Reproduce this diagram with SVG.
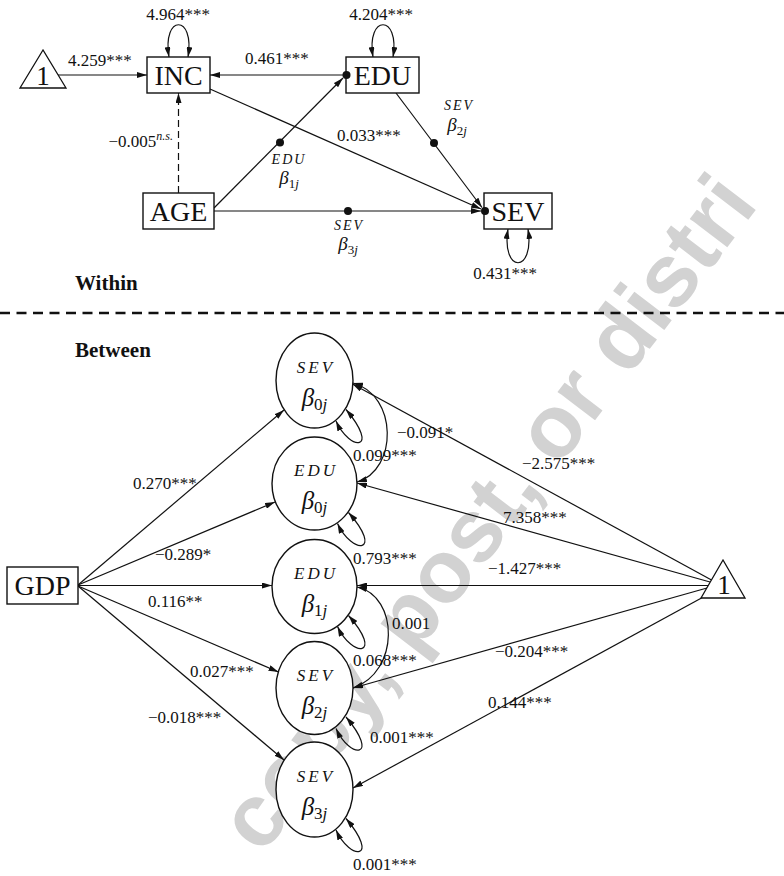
<svg xmlns="http://www.w3.org/2000/svg" width="784" height="876" viewBox="0 0 784 876">
<style>
text{font-family:"Liberation Serif","Times New Roman",serif;fill:#111}
.lbl{font-size:17px}
.big{font-size:28px}
.hd{font-size:21px;font-weight:bold}
.it{font-style:italic}
.sc{font-size:17px;font-style:italic;letter-spacing:3px}
.sct{font-size:14px;font-style:italic;letter-spacing:2px}
.beta{font-size:25px;font-style:italic}
.betat{font-size:19px;font-style:italic}
.ln{stroke:#111;stroke-width:1.2;fill:none}
.arr{marker-end:url(#ah)}
.both{marker-start:url(#ah);marker-end:url(#ah)}
.box{fill:#fff;stroke:#111;stroke-width:1.4}
.ell{fill:#fff;stroke:#111;stroke-width:1.4}
.dot{fill:#111}
.wm{font-family:"Liberation Sans",Arial,sans-serif;font-size:89px;font-weight:bold;fill:#d2d2d2}
</style>
<defs>
<marker id="ah" viewBox="0 0 10 6" refX="10" refY="3" markerWidth="10" markerHeight="6" markerUnits="userSpaceOnUse" orient="auto-start-reverse"><path d="M0,0 L10,3 L0,6 z" fill="#111"/></marker>
<path id="loopS" d="M21.5,40.5 C36,72 66,70 31.5,29"/>
<path id="loopE" d="M23,40 C38,72 70,70 34,29"/>
</defs>

<text class="wm" transform="translate(262,856) rotate(-52.6)">copy, post, or distri</text>

<g id="connectors">
  <line class="ln arr" x1="58" y1="75" x2="147" y2="75"/>
  <path class="ln both" d="M169,57 C162,14 195,14 188,57"/>
  <path class="ln both" d="M373,57 C366,14 400,14 393,57"/>
  <line class="ln arr" x1="346" y1="75" x2="210" y2="75"/>
  <line class="ln arr" x1="214" y1="208" x2="343" y2="78"/>
  <line class="ln arr" x1="178.5" y1="193" x2="178.5" y2="93" stroke-dasharray="7,4"/>
  <line class="ln arr" x1="210" y1="89" x2="481" y2="209"/>
  <line class="ln arr" x1="396" y1="93" x2="482" y2="207.5"/>
  <line class="ln arr" x1="214" y1="211" x2="481" y2="211"/>
  <path class="ln both" d="M508,229 C501,274 535,274 528,229"/>
  <line x1="0" y1="313" x2="784" y2="313" stroke="#111" stroke-width="2.6" stroke-dasharray="10,6.5"/>

  <line class="ln arr" x1="78" y1="585" x2="284" y2="410"/>
  <line class="ln arr" x1="78" y1="585" x2="275" y2="502"/>
  <line class="ln arr" x1="78" y1="585.5" x2="272" y2="585.5"/>
  <line class="ln arr" x1="78" y1="586" x2="278.5" y2="672"/>
  <line class="ln arr" x1="78" y1="586" x2="284" y2="760"/>

  <line class="ln arr" x1="711.5" y1="580" x2="352.5" y2="384"/>
  <line class="ln arr" x1="710" y1="582" x2="357" y2="483"/>
  <line class="ln arr" x1="708" y1="585.5" x2="357" y2="585.5"/>
  <line class="ln arr" x1="707" y1="588" x2="353" y2="688"/>
  <line class="ln arr" x1="701.5" y1="598" x2="353" y2="788"/>

  <path class="ln both" d="M353,383 C398,395 398,470 357,482"/>
  <path class="ln both" d="M357,587 C399,596 400,672 353,688"/>

  <use href="#loopS" class="ln both" transform="translate(314.5,380.5)"/>
  <use href="#loopE" class="ln both" transform="translate(314.5,483.5)"/>
  <use href="#loopE" class="ln both" transform="translate(314.5,586.5)"/>
  <use href="#loopS" class="ln both" transform="translate(314.5,688)"/>
  <use href="#loopS" class="ln both" transform="translate(314.5,789.5)"/>
</g>

<g id="labels">
  <text class="lbl" x="68" y="66">4.259***</text>
  <text class="lbl" x="178" y="20" text-anchor="middle">4.964***</text>
  <text class="lbl" x="381" y="20" text-anchor="middle">4.204***</text>
  <text class="lbl" x="245" y="64">0.461***</text>
  <text class="lbl" x="173" y="147" text-anchor="end">−0.005<tspan class="it" font-size="12" dy="-7">n.s.</tspan></text>
  <text class="lbl" x="337" y="141">0.033***</text>
  <text class="sct" x="289" y="164" text-anchor="middle">EDU</text>
  <text class="betat" x="289" y="184" text-anchor="middle">β<tspan font-style="normal" font-size="13" dy="4">1</tspan><tspan font-size="13">j</tspan></text>
  <text class="sct" x="459" y="110" text-anchor="middle">SEV</text>
  <text class="betat" x="457" y="131" text-anchor="middle">β<tspan font-style="normal" font-size="13" dy="4">2</tspan><tspan font-size="13">j</tspan></text>
  <text class="sct" x="349" y="230" text-anchor="middle">SEV</text>
  <text class="betat" x="348" y="250" text-anchor="middle">β<tspan font-style="normal" font-size="13" dy="4">3</tspan><tspan font-size="13">j</tspan></text>
  <text class="lbl" x="505" y="279" text-anchor="middle">0.431***</text>
  <text class="hd" x="75" y="290">Within</text>
  <text class="hd" x="75" y="357">Between</text>

  <text class="lbl" x="133" y="489">0.270***</text>
  <text class="lbl" x="155" y="560">−0.289*</text>
  <text class="lbl" x="148" y="607">0.116**</text>
  <text class="lbl" x="190" y="677">0.027***</text>
  <text class="lbl" x="148" y="723">−0.018***</text>

  <text class="lbl" x="522" y="469">−2.575***</text>
  <text class="lbl" x="503" y="523">7.358***</text>
  <text class="lbl" x="488" y="574">−1.427***</text>
  <text class="lbl" x="495" y="657">−0.204***</text>
  <text class="lbl" x="488" y="708">0.144***</text>

  <text class="lbl" x="397" y="438">−0.091*</text>
  <text class="lbl" x="353" y="461">0.099***</text>
  <text class="lbl" x="353" y="564">0.793***</text>
  <text class="lbl" x="392" y="629">0.001</text>
  <text class="lbl" x="353" y="666">0.068***</text>
  <text class="lbl" x="370" y="743">0.001***</text>
  <text class="lbl" x="353" y="870">0.001***</text>
</g>

<g id="one-within">
  <polygon points="43,50 20,88 66,88" fill="#fff" stroke="#111" stroke-width="1.3"/>
  <text x="43" y="85" font-size="27" text-anchor="middle">1</text>
</g>
<g id="INC">
  <rect class="box" x="147" y="57" width="63" height="36"/>
  <text class="big" x="178.5" y="85" text-anchor="middle">INC</text>
</g>
<g id="EDU">
  <rect class="box" x="346" y="57" width="73" height="36"/>
  <text class="big" x="382.5" y="85" text-anchor="middle">EDU</text>
  <circle class="dot" cx="346.5" cy="75" r="4"/>
</g>
<g id="AGE">
  <rect class="box" x="143" y="193" width="71" height="36"/>
  <text class="big" x="178.5" y="221" text-anchor="middle">AGE</text>
</g>
<g id="SEV">
  <rect class="box" x="484" y="193" width="68" height="36"/>
  <text class="big" x="518" y="221" text-anchor="middle">SEV</text>
  <circle class="dot" cx="485" cy="211" r="4"/>
</g>
<g id="path-dots">
  <circle class="dot" cx="280" cy="142.5" r="4"/>
  <circle class="dot" cx="434" cy="143" r="4"/>
  <circle class="dot" cx="348" cy="211" r="4"/>
</g>

<g id="GDP">
  <rect class="box" x="7" y="567" width="71" height="37"/>
  <text class="big" x="42.5" y="595" text-anchor="middle">GDP</text>
</g>
<g id="one-between">
  <polygon points="723,560 701,598 745,598" fill="#fff" stroke="#111" stroke-width="1.3"/>
  <text x="724" y="594" font-size="27" text-anchor="middle">1</text>
</g>
<g id="SEV-b0">
  <ellipse class="ell" cx="314.5" cy="380.5" rx="38.5" ry="47.5"/>
  <text class="sc" x="316" y="373" text-anchor="middle">SEV</text>
  <text class="beta" x="314.5" y="406" text-anchor="middle">β<tspan font-style="normal" font-size="17" dy="4">0</tspan><tspan font-size="17">j</tspan></text>
</g>
<g id="EDU-b0">
  <ellipse class="ell" cx="314.5" cy="483.5" rx="42.5" ry="46.5"/>
  <text class="sc" x="316" y="476" text-anchor="middle">EDU</text>
  <text class="beta" x="314.5" y="509" text-anchor="middle">β<tspan font-style="normal" font-size="17" dy="4">0</tspan><tspan font-size="17">j</tspan></text>
</g>
<g id="EDU-b1">
  <ellipse class="ell" cx="314.5" cy="586.5" rx="42.5" ry="47"/>
  <text class="sc" x="316" y="579" text-anchor="middle">EDU</text>
  <text class="beta" x="314.5" y="612" text-anchor="middle">β<tspan font-style="normal" font-size="17" dy="4">1</tspan><tspan font-size="17">j</tspan></text>
</g>
<g id="SEV-b2">
  <ellipse class="ell" cx="314.5" cy="688" rx="38.5" ry="46.5"/>
  <text class="sc" x="316" y="681" text-anchor="middle">SEV</text>
  <text class="beta" x="314.5" y="714" text-anchor="middle">β<tspan font-style="normal" font-size="17" dy="4">2</tspan><tspan font-size="17">j</tspan></text>
</g>
<g id="SEV-b3">
  <ellipse class="ell" cx="314.5" cy="789.5" rx="38.5" ry="47.5"/>
  <text class="sc" x="316" y="782" text-anchor="middle">SEV</text>
  <text class="beta" x="314.5" y="815" text-anchor="middle">β<tspan font-style="normal" font-size="17" dy="4">3</tspan><tspan font-size="17">j</tspan></text>
</g>
</svg>
